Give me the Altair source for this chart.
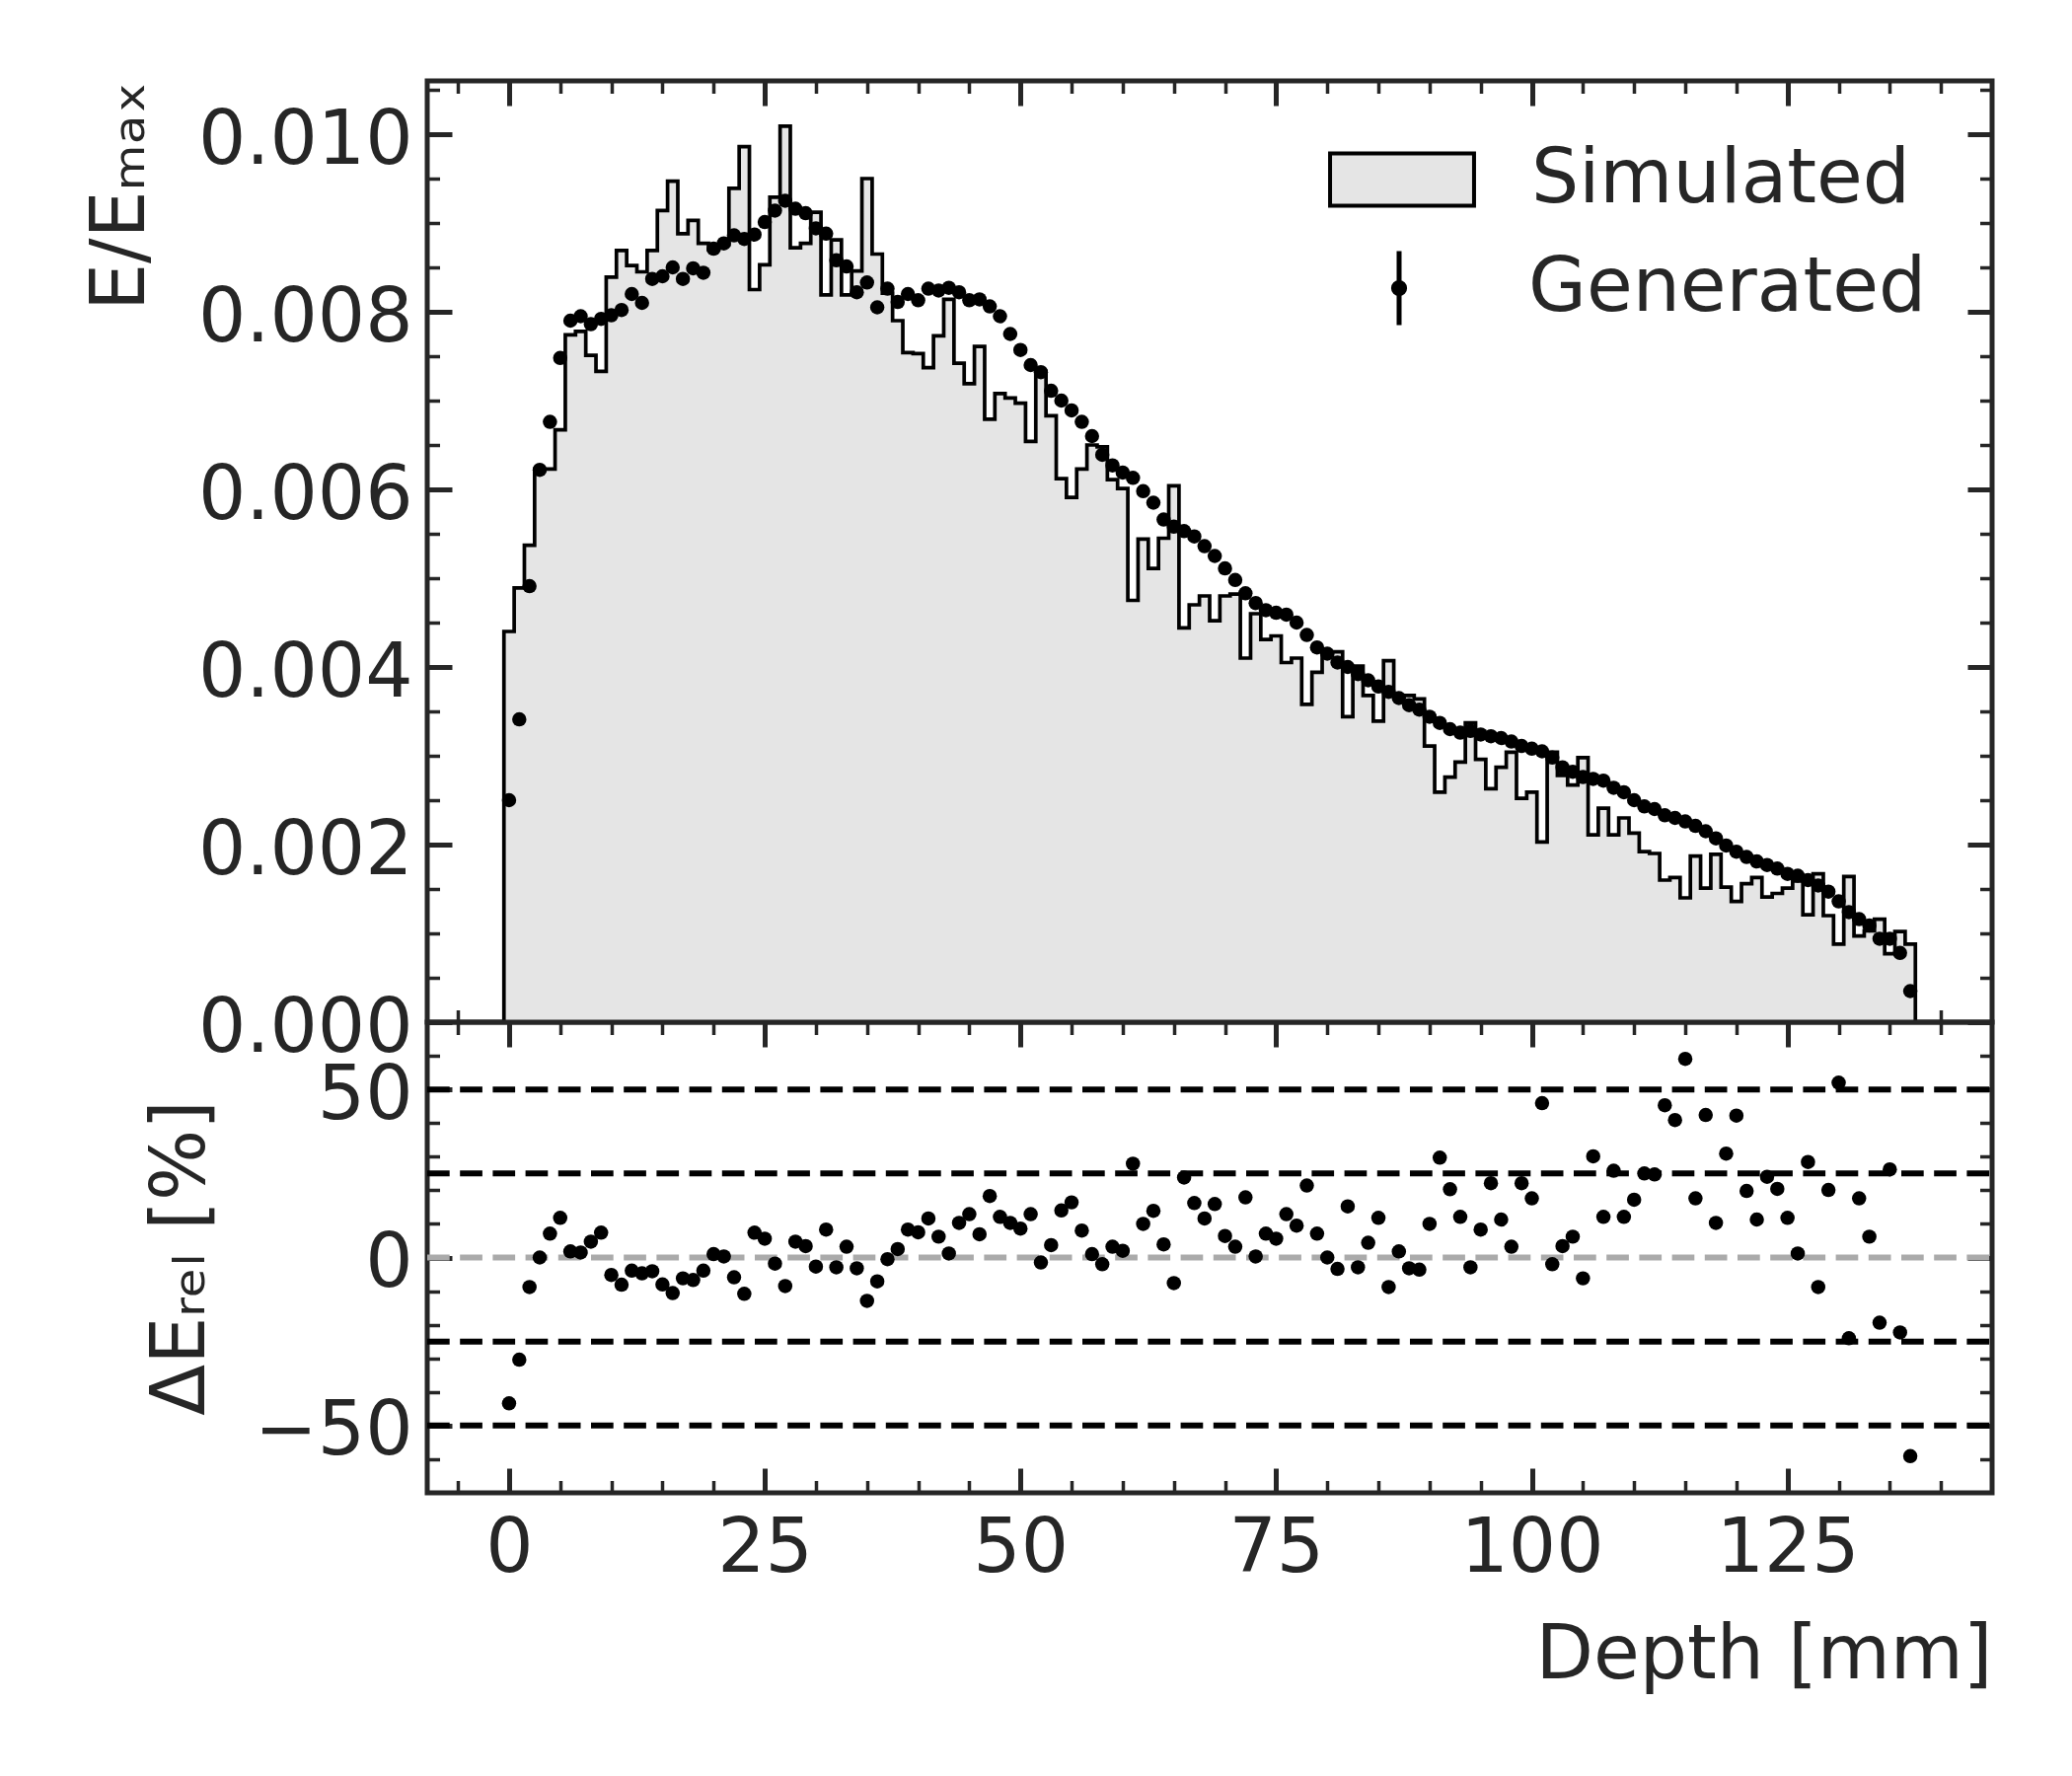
import altair as alt
import pandas as pd

# ---------------- data ----------------
DEPTH = list(range(138))  # bin centres [mm]

SIM = [
    4.40e-3, 4.89e-3, 5.37e-3, 6.23e-3, 6.23e-3, 6.67e-3, 7.74e-3, 7.78e-3, 7.51e-3, 7.33e-3,
    8.39e-3, 8.69e-3, 8.52e-3, 8.45e-3, 8.69e-3, 9.14e-3, 9.47e-3, 8.88e-3, 9.03e-3, 8.77e-3,
    8.70e-3, 8.76e-3, 9.39e-3, 9.86e-3, 8.25e-3, 8.53e-3, 9.29e-3, 10.09e-3, 8.72e-3, 8.77e-3,
    9.12e-3, 8.19e-3, 8.81e-3, 8.19e-3, 8.46e-3, 9.50e-3, 8.65e-3, 8.21e-3, 7.90e-3, 7.54e-3,
    7.53e-3, 7.37e-3, 7.73e-3, 8.14e-3, 7.42e-3, 7.19e-3, 7.61e-3, 6.79e-3, 7.08e-3, 7.03e-3,
    6.97e-3, 6.54e-3, 7.33e-3, 6.83e-3, 6.12e-3, 5.91e-3, 6.23e-3, 6.50e-3, 6.48e-3, 6.11e-3,
    6.01e-3, 4.75e-3, 5.44e-3, 5.11e-3, 5.45e-3, 6.04e-3, 4.44e-3, 4.70e-3, 4.80e-3, 4.52e-3,
    4.80e-3, 4.82e-3, 4.10e-3, 4.60e-3, 4.31e-3, 4.35e-3, 4.05e-3, 4.10e-3, 3.58e-3, 3.94e-3,
    4.13e-3, 4.17e-3, 3.44e-3, 4.01e-3, 3.68e-3, 3.39e-3, 4.07e-3, 3.68e-3, 3.68e-3, 3.64e-3,
    3.11e-3, 2.59e-3, 2.76e-3, 2.93e-3, 3.37e-3, 2.96e-3, 2.63e-3, 2.87e-3, 3.04e-3, 2.52e-3,
    2.59e-3, 2.03e-3, 3.04e-3, 2.78e-3, 2.67e-3, 2.98e-3, 2.11e-3, 2.41e-3, 2.11e-3, 2.30e-3,
    2.13e-3, 1.92e-3, 1.90e-3, 1.60e-3, 1.63e-3, 1.40e-3, 1.87e-3, 1.51e-3, 1.89e-3, 1.52e-3,
    1.36e-3, 1.56e-3, 1.63e-3, 1.41e-3, 1.45e-3, 1.51e-3, 1.59e-3, 1.21e-3, 1.67e-3, 1.20e-3,
    0.88e-3, 1.64e-3, 0.97e-3, 1.03e-3, 1.16e-3, 0.77e-3, 1.02e-3, 0.88e-3,
]

GEN = [
    2.50e-3, 3.41e-3, 4.91e-3, 6.22e-3, 6.76e-3, 7.48e-3, 7.90e-3, 7.95e-3, 7.86e-3, 7.92e-3,
    7.96e-3, 8.02e-3, 8.20e-3, 8.10e-3, 8.37e-3, 8.40e-3, 8.50e-3, 8.37e-3, 8.49e-3, 8.44e-3,
    8.71e-3, 8.77e-3, 8.86e-3, 8.82e-3, 8.87e-3, 9.01e-3, 9.14e-3, 9.25e-3, 9.16e-3, 9.11e-3,
    8.94e-3, 8.88e-3, 8.58e-3, 8.51e-3, 8.22e-3, 8.33e-3, 8.05e-3, 8.26e-3, 8.11e-3, 8.20e-3,
    8.13e-3, 8.26e-3, 8.24e-3, 8.27e-3, 8.22e-3, 8.13e-3, 8.14e-3, 8.06e-3, 7.95e-3, 7.75e-3,
    7.57e-3, 7.40e-3, 7.32e-3, 7.11e-3, 7.00e-3, 6.89e-3, 6.76e-3, 6.60e-3, 6.39e-3, 6.27e-3,
    6.19e-3, 6.13e-3, 5.98e-3, 5.85e-3, 5.66e-3, 5.58e-3, 5.53e-3, 5.47e-3, 5.36e-3, 5.25e-3,
    5.11e-3, 4.98e-3, 4.83e-3, 4.72e-3, 4.64e-3, 4.61e-3, 4.59e-3, 4.50e-3, 4.36e-3, 4.22e-3,
    4.15e-3, 4.05e-3, 4.00e-3, 3.92e-3, 3.85e-3, 3.78e-3, 3.72e-3, 3.65e-3, 3.57e-3, 3.52e-3,
    3.44e-3, 3.37e-3, 3.30e-3, 3.26e-3, 3.28e-3, 3.24e-3, 3.22e-3, 3.20e-3, 3.16e-3, 3.11e-3,
    3.08e-3, 3.05e-3, 2.98e-3, 2.87e-3, 2.82e-3, 2.76e-3, 2.74e-3, 2.72e-3, 2.64e-3, 2.59e-3,
    2.50e-3, 2.43e-3, 2.40e-3, 2.33e-3, 2.30e-3, 2.26e-3, 2.21e-3, 2.15e-3, 2.07e-3, 1.99e-3,
    1.92e-3, 1.86e-3, 1.81e-3, 1.77e-3, 1.73e-3, 1.67e-3, 1.65e-3, 1.60e-3, 1.54e-3, 1.47e-3,
    1.36e-3, 1.24e-3, 1.16e-3, 1.09e-3, 0.94e-3, 0.94e-3, 0.78e-3, 0.35e-3,
]

REL = [
    -43.4, -30.4, -8.8, 0.0, 7.1, 11.8, 1.8, 1.5, 4.7, 7.4,
    -5.2, -8.1, -3.9, -4.7, -4.1, -8.0, -10.6, -6.2, -6.7, -3.9,
    1.0, 0.3, -5.9, -10.8, 7.4, 5.6, -1.8, -8.5, 4.7, 3.4,
    -2.7, 8.3, -2.9, 3.2, -3.2, -12.9, -7.1, -0.5, 2.5, 8.3,
    7.5, 11.6, 6.2, 1.2, 10.3, 12.9, 6.9, 18.3, 12.1, 10.3,
    8.6, 12.9, -1.5, 3.7, 14.0, 16.4, 8.0, 1.0, -2.0, 3.2,
    2.0, 27.9, 10.0, 13.9, 3.9, -7.6, 23.8, 16.2, 11.6, 15.9,
    6.4, 3.2, 17.9, 0.3, 7.1, 5.6, 12.9, 9.5, 21.4, 7.1,
    0.0, -3.4, 15.2, -2.9, 4.4, 11.8, -8.8, 1.8, -3.2, -3.6,
    10.0, 29.7, 20.3, 12.1, -2.9, 8.3, 22.1, 11.3, 3.2, 22.1,
    17.6, 45.9, -2.0, 3.4, 6.2, -6.2, 30.1, 12.1, 25.8, 12.1,
    17.2, 25.0, 24.7, 45.3, 40.9, 59.1, 17.6, 42.4, 10.3, 30.9,
    42.2, 19.8, 11.3, 24.0, 20.4, 11.8, 1.2, 28.4, -8.8, 20.1,
    52.0, -24.0, 17.6, 6.2, -19.4, 26.2, -22.3, -59.1,
]

SERIES = ["Simulated", "Generated"]
XDOM = [-8, 145]
YDOM_TOP = [0, 0.0106]
YDOM_BOT = [-70, 70]
REF_LEVELS = [50, 25, -25, -50]
ZERO_LEVEL = [0]

X_MAJOR = [0, 25, 50, 75, 100, 125]
X_TICKS = list(range(-5, 145, 5))
Y_MAJOR = [0.0, 0.002, 0.004, 0.006, 0.008, 0.01]
Y_TICKS = [round(0.0005 * i, 4) for i in range(22)]
R_MAJOR = [-50, 0, 50]
R_TICKS = list(range(-60, 61, 10))

# ---------------- style ----------------
FONT = "DejaVu Sans"
INK = "#262626"
FILL = "#e5e5e5"
FS = 76
W, H1, H2 = 1586, 954, 477
MAJ_LEN, MIN_LEN = 25, 12.5
MAJ_W, MIN_W = 5, 3.5

RECT_PATH = "M-0.96,-0.35L0.96,-0.35L0.96,0.35L-0.96,0.35Z"
ERR_PATH = "M0,-1L0,1M-0.15,0A0.15,0.15 0 1,0 0.15,0A0.15,0.15 0 1,0 -0.15,0Z"


def tick_axis(orient, offset, values, test):
    return alt.Axis(
        orient=orient, offset=offset, values=values, labels=False, domain=False,
        grid=False, ticks=True, title=None, tickColor=INK, minExtent=0,
        tickSize={"condition": {"test": test, "value": MAJ_LEN}, "value": MIN_LEN},
        tickWidth={"condition": {"test": test, "value": MAJ_W}, "value": MIN_W},
    )


X_TEST = "datum.value % 25 === 0"
Y_TEST = "abs(datum.value * 500 - round(datum.value * 500)) < 1e-6"
R_TEST = "datum.value % 50 === 0"

label_kw = dict(
    ticks=False, tickSize=0, domain=False, grid=False, labelFont=FONT,
    labelFontSize=FS, labelColor=INK, labelOverlap=False, labelFlush=False,
    labelLimit=1000, titleFont=FONT, titleFontSize=FS, titleFontWeight="normal",
    titleColor=INK, titleLimit=2000, minExtent=0,
)

# ---------------- tables ----------------
edges = [k - 0.5 for k in DEPTH] + [DEPTH[-1] + 0.5]
area_df = pd.DataFrame({"x": edges, "y": SIM + [SIM[-1]], "lab": SERIES[0]})
line_df = pd.DataFrame({
    "x": [edges[0]] + edges + [edges[-1]],
    "y": [0.0] + SIM + [SIM[-1]] + [0.0],
})
line_df["i"] = range(len(line_df))
gen_df = pd.DataFrame({"x": DEPTH, "y": GEN, "lab2": SERIES[1]})
ref_df = pd.DataFrame({"y": REF_LEVELS, "x0": XDOM[0], "x1": XDOM[1]})
zero_df = pd.DataFrame({"y": ZERO_LEVEL, "x0": XDOM[0], "x1": XDOM[1]})
rel_df = pd.DataFrame({"x": DEPTH, "rel": REL})

xs = alt.Scale(domain=XDOM, nice=False, zero=False)
ys_top = alt.Scale(domain=YDOM_TOP, nice=False, zero=False)
ys_bot = alt.Scale(domain=YDOM_BOT, nice=False, zero=False)

# ---------------- top panel ----------------
area = alt.Chart(area_df).mark_area(interpolate="step-after", opacity=1).encode(
    x=alt.X("x:Q", scale=xs, axis=tick_axis("bottom", -H1, X_TICKS, X_TEST)),
    y=alt.Y("y:Q", scale=ys_top, axis=alt.Axis(
        orient="left", values=Y_MAJOR, format=".3f", labelPadding=15, labelOffset=6,
        title="E/Eₘₐₓ", titleAngle=270, titleAlign="right", titleBaseline="alphabetic",
        titleX=-288, titleY=0, **label_kw)),
    fill=alt.Fill("lab:N", scale=alt.Scale(domain=[SERIES[0]], range=[FILL]),
                  legend=alt.Legend(
                      title=None, orient="none", legendX=910, legendY=22, padding=0,
                      symbolType=RECT_PATH, symbolSize=152 * 152, symbolStrokeColor="#000000",
                      symbolStrokeWidth=4, symbolOpacity=1, labelFont=FONT, labelFontSize=FS,
                      labelColor=INK, labelOffset=53, labelLimit=2000)),
)

outline = alt.Chart(line_df).mark_line(
    interpolate="step-after", color="#000000", strokeWidth=3.7
).encode(
    x=alt.X("x:Q", scale=xs, axis=tick_axis("top", -H1, X_TICKS, X_TEST)),
    y=alt.Y("y:Q", scale=ys_top, axis=tick_axis("right", -W, Y_TICKS, Y_TEST)),
    order=alt.Order("i:Q"),
)

gen_pts = alt.Chart(gen_df).mark_circle(size=210, color="#000000", opacity=1, strokeWidth=0).encode(
    x=alt.X("x:Q", scale=xs, axis=None),
    y=alt.Y("y:Q", scale=ys_top, axis=tick_axis("left", -W, Y_TICKS, Y_TEST)),
    stroke=alt.Stroke("lab2:N", scale=alt.Scale(domain=[SERIES[1]], range=["#000000"]),
                      legend=alt.Legend(
                          title=None, orient="none", legendX=945, legendY=170, padding=0,
                          symbolType=ERR_PATH, symbolSize=75 * 75, symbolStrokeColor="#000000",
                          symbolFillColor="#000000", symbolStrokeWidth=5, symbolOpacity=1,
                          labelFont=FONT, labelFontSize=FS, labelColor=INK, labelOffset=91,
                          labelLimit=2000)),
)

top = alt.layer(area, outline, gen_pts).resolve_axis(x="independent", y="independent").properties(
    width=W, height=H1)

# ---------------- bottom panel ----------------
refs = alt.Chart(ref_df).mark_rule(color="#000000", strokeWidth=6, strokeDash=[22.7, 10.5]).encode(
    x=alt.X("x0:Q", scale=xs, axis=alt.Axis(
        orient="bottom", values=X_MAJOR, format="d", labelPadding=19,
        title="Depth [mm]", titleAngle=0, titleAlign="right", titleBaseline="alphabetic",
        titleX=W, titleY=187, **label_kw)),
    x2="x1:Q",
    y=alt.Y("y:Q", scale=ys_bot, axis=alt.Axis(
        orient="left", values=R_MAJOR, format="d", labelPadding=15, labelOffset=6,
        title="ΔEᵣₑₗ [%]", titleAngle=270, titleAlign="center", titleBaseline="alphabetic",
        titleX=-227, titleY=H2 / 2, **label_kw)),
)

zero = alt.Chart(zero_df).mark_rule(color="#aaaaaa", strokeWidth=6, strokeDash=[22.7, 10.5]).encode(
    x=alt.X("x0:Q", scale=xs, axis=tick_axis("top", -H2, X_TICKS, X_TEST)),
    x2="x1:Q",
    y=alt.Y("y:Q", scale=ys_bot, axis=tick_axis("right", -W, R_TICKS, R_TEST)),
)

rel_pts = alt.Chart(rel_df).mark_circle(size=210, color="#000000", opacity=1).encode(
    x=alt.X("x:Q", scale=xs, axis=tick_axis("bottom", -H2, X_TICKS, X_TEST)),
    y=alt.Y("rel:Q", scale=ys_bot, axis=tick_axis("left", -W, R_TICKS, R_TEST)),
)

bottom = alt.layer(refs, zero, rel_pts).resolve_axis(x="independent", y="independent").properties(
    width=W, height=H2)

chart = alt.vconcat(top, bottom, spacing=0, bounds="flush").resolve_scale(x="independent").properties(
    padding={"left": 73, "top": 69, "right": 20, "bottom": 20},
    background="white",
).configure_view(stroke=INK, strokeWidth=5)

chart.save("out.html", embed_options={"renderer": "svg", "actions": False})
